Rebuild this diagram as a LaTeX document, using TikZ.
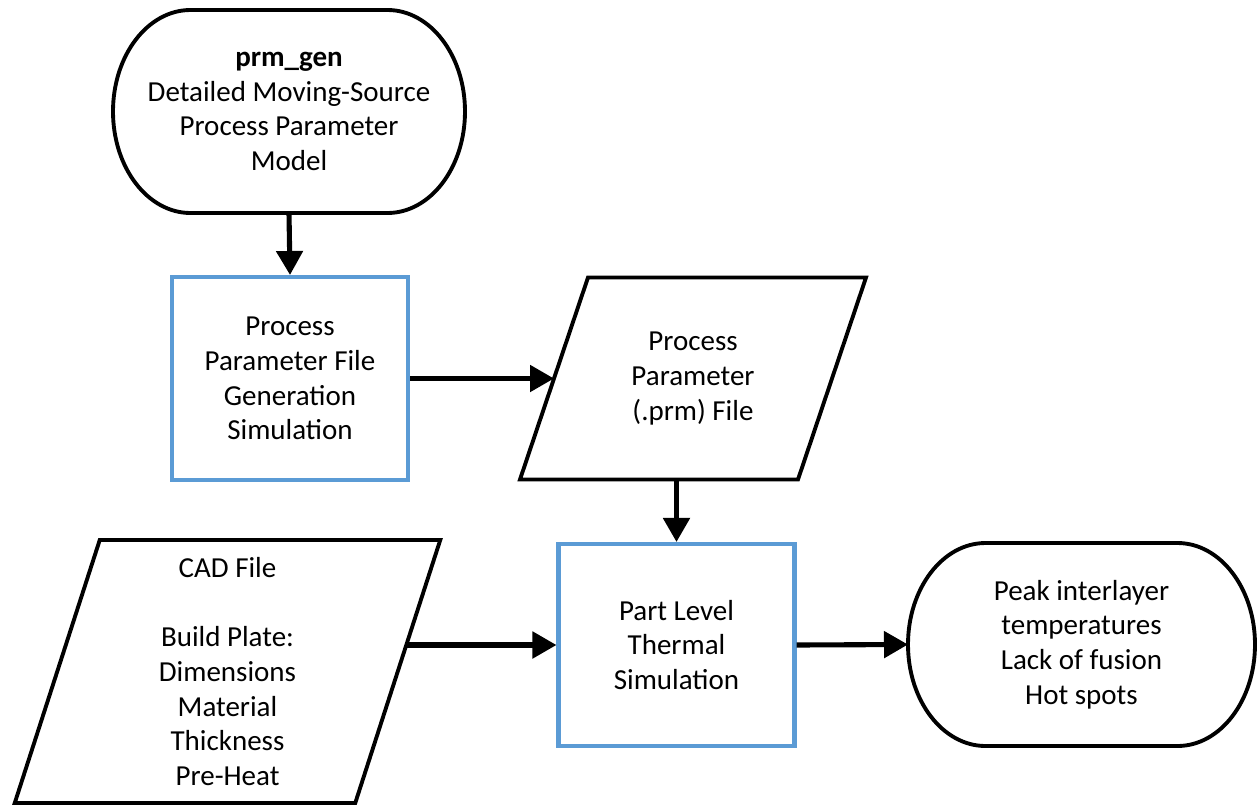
\documentclass[tikz,border=0pt]{standalone}
\usepackage{fontspec}
\setmainfont{Carlito}
\usetikzlibrary{arrows.meta,calc}
\definecolor{boxblue}{HTML}{5B9BD5}
\tikzset{
  txt/.style={align=center, font=\fontsize{16.5}{19.7}\selectfont},
  terminal/.style={txt, rectangle, outer sep=0pt, minimum height=4.06cm},
  procbox/.style={txt, rectangle, draw=boxblue, line width=2.3pt, minimum width=4.72cm, minimum height=4.06cm},
  datafile/.style={txt, rectangle, outer sep=0pt},
  flow/.style={line width=2.9pt, -{Triangle[length=0.48cm,width=0.52cm]}},
}
% outline of a start/end block: straight top and bottom, half ellipses at the sides
\newcommand{\termline}[1]{%
  \draw[line width=2.2pt] ([xshift=1.55cm]#1.north west) -- ([xshift=-1.55cm]#1.north east)
    arc[start angle=90, end angle=-90, x radius=1.55cm, y radius=2.03cm]
    -- ([xshift=1.55cm]#1.south west)
    arc[start angle=270, end angle=90, x radius=1.55cm, y radius=2.03cm] -- cycle;}
% outline of a file block: parallelogram through the mid points of the node's sides
\newcommand{\fileline}[2]{%
  \draw[line width=2.2pt] ([xshift=#2]#1.north west) -- ([xshift=#2]#1.north east)
    -- ([xshift=-#2]#1.south east) -- ([xshift=-#2]#1.south west) -- cycle;}
\begin{document}
\begin{tikzpicture}
      \useasboundingbox (0,0) rectangle (25.14,-16.10);

      \node[terminal, minimum width=7.04cm](gen) at (5.78,-2.23){\textbf{prm\_gen}\\Detailed Moving-Source\\Process Parameter\\Model};
      \termline{gen}
      \node[procbox](pfg) at (5.80,-7.57){Process\\Parameter File\\Generation\\Simulation};
      \node[datafile, minimum width=5.56cm, minimum height=4.04cm](prm) at (13.86,-7.57){Process\\Parameter\\(.prm) File};
      \fileline{prm}{0.68cm}
      \node[procbox, minimum height=4.04cm](thermal) at (13.53,-12.90){Part Level\\Thermal\\Simulation};
      \node[datafile, minimum width=6.81cm, minimum height=5.26cm](cad) at (4.55,-13.43){CAD File\\\mbox{}\\Build Plate:\\Dimensions\\Material\\Thickness\\Pre-Heat};
      \fileline{cad}{0.85cm}
      \node[terminal, minimum width=6.94cm](out) at (21.63,-12.89){Peak interlayer\\temperatures\\Lack of fusion\\Hot spots};
      \termline{out}

      % connectors
      \draw[flow] (gen.south) -- (pfg.north);
      \draw[flow] (pfg.east) -- (prm.west);
      \draw[flow] (thermal.north |- prm.south) -- (thermal.north);
      \draw[flow] ($(cad.east |- thermal.west)+(0.16,0)$) -- (thermal.west);
      \draw[flow] (thermal.east) -- (out.west);
    \end{tikzpicture}
\end{document}
